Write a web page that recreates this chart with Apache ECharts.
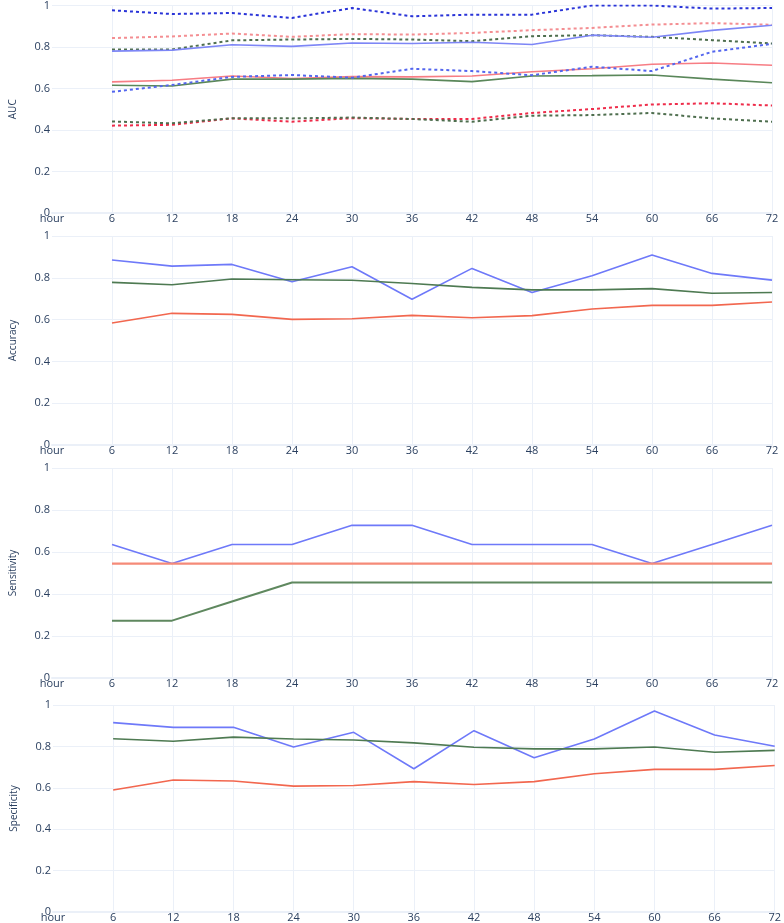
<!DOCTYPE html>
<html>
<head>
<meta charset="utf-8">
<script src="https://cdn.jsdelivr.net/npm/echarts@6/dist/echarts.min.js"></script>
<style>
  html, body { margin: 0; padding: 0; background: #fff; }
  #chart { width: 784px; height: 923px; }
</style>
</head>
<body>
<div id="chart"></div>
<script>
  var hours = ['6', '12', '18', '24', '30', '36', '42', '48', '54', '60', '66', '72']
  var yTicks = [0, 0.2, 0.4, 0.6, 0.8, 1]

  // AUC with dotted confidence bounds
  var aucBlue = [0.780, 0.785, 0.811, 0.803, 0.819, 0.817, 0.823, 0.812, 0.857, 0.847, 0.880, 0.905]
  var aucBlueHi = [0.977, 0.959, 0.964, 0.940, 0.988, 0.948, 0.956, 0.956, 1.0, 1.0, 0.985, 0.988]
  var aucBlueLo = [0.584, 0.617, 0.656, 0.665, 0.652, 0.695, 0.684, 0.664, 0.705, 0.684, 0.777, 0.815]
  var aucRed = [0.632, 0.640, 0.660, 0.648, 0.657, 0.656, 0.660, 0.681, 0.695, 0.717, 0.723, 0.712]
  var aucRedHi = [0.843, 0.851, 0.865, 0.849, 0.862, 0.860, 0.868, 0.881, 0.892, 0.908, 0.915, 0.907]
  var aucRedLo = [0.421, 0.425, 0.456, 0.440, 0.457, 0.453, 0.453, 0.482, 0.501, 0.523, 0.529, 0.518]
  var aucGreen = [0.616, 0.612, 0.645, 0.645, 0.649, 0.645, 0.633, 0.660, 0.662, 0.665, 0.645, 0.628]
  var aucGreenHi = [0.788, 0.788, 0.832, 0.836, 0.839, 0.836, 0.828, 0.852, 0.857, 0.849, 0.833, 0.817]
  var aucGreenLo = [0.441, 0.432, 0.457, 0.456, 0.460, 0.453, 0.440, 0.469, 0.472, 0.482, 0.456, 0.440]

  var accBlue = [0.885, 0.856, 0.864, 0.781, 0.853, 0.697, 0.845, 0.730, 0.810, 0.909, 0.821, 0.789]
  var accGreen = [0.778, 0.767, 0.794, 0.791, 0.788, 0.773, 0.754, 0.742, 0.742, 0.748, 0.726, 0.730]
  var accRed = [0.584, 0.630, 0.625, 0.601, 0.604, 0.620, 0.609, 0.619, 0.651, 0.668, 0.668, 0.684]

  var senBlue = [0.636, 0.545, 0.636, 0.636, 0.727, 0.727, 0.636, 0.636, 0.636, 0.545, 0.636, 0.727]
  var senRed = [0.545, 0.545, 0.545, 0.545, 0.545, 0.545, 0.545, 0.545, 0.545, 0.545, 0.545, 0.545]
  var senGreen = [0.273, 0.273, 0.364, 0.455, 0.455, 0.455, 0.455, 0.455, 0.455, 0.455, 0.455, 0.455]

  var speBlue = [0.915, 0.892, 0.892, 0.797, 0.868, 0.692, 0.876, 0.745, 0.836, 0.971, 0.855, 0.801]
  var speGreen = [0.837, 0.825, 0.845, 0.836, 0.831, 0.817, 0.796, 0.788, 0.788, 0.797, 0.772, 0.781]
  var speRed = [0.589, 0.638, 0.633, 0.608, 0.611, 0.630, 0.616, 0.630, 0.668, 0.689, 0.689, 0.708]

  var TEXT = '#2a3f5f'
  var GRID = '#ebf0f8'
  var FONT = '"Open Sans", "Noto Sans", sans-serif'

  var panels = [
    {name: 'AUC', left: 48, right: 12, top: 4, height: 209},
    {name: 'Accuracy', left: 48, right: 12, top: 236, height: 209},
    {name: 'Sensitivity', left: 47, right: 12, top: 468, height: 210},
    {name: 'Specificity', left: 53, right: 7, top: 705, height: 209},
  ]

  var cats = ['hour'].concat(hours)

  function pad(arr) {
    return [null].concat(arr)
  }

  function line(idx, name, data, color, width, dotted) {
    return {
      name: name,
      type: 'line',
      xAxisIndex: idx,
      yAxisIndex: idx,
      data: pad(data),
      symbol: 'none',
      silent: true,
      lineStyle: {
        color: color,
        width: width,
        type: dotted ? [3, 3] : 'solid'
      }
    }
  }

  var grids = [], xAxes = [], yAxes = []
  panels.forEach(function (p, i) {
    grids.push({left: p.left, right: p.right, top: p.top, height: p.height, containLabel: false})
    xAxes.push({
      gridIndex: i,
      type: 'category',
      boundaryGap: false,
      data: cats,
      axisLine: {show: true, lineStyle: {color: GRID, width: 2}},
      axisTick: {show: false},
      axisLabel: {color: TEXT, fontSize: 11, fontFamily: FONT, margin: 0, interval: 0},
      splitLine: {
        show: true,
        interval: function (index) { return index > 0 },
        lineStyle: {color: GRID, width: 1}
      }
    })
    yAxes.push({
      gridIndex: i,
      type: 'value',
      min: yTicks[0],
      max: yTicks[yTicks.length - 1],
      interval: 0.2,
      name: p.name,
      nameLocation: 'middle',
      nameRotate: 90,
      nameGap: 34,
      nameTextStyle: {color: TEXT, fontSize: 10, fontFamily: FONT},
      axisLine: {show: false},
      axisTick: {show: false},
      axisLabel: {color: TEXT, fontSize: 11, fontFamily: FONT, margin: 2},
      splitLine: {show: true, lineStyle: {color: GRID, width: 1}}
    })
  })

  var series = [
    line(0, 'blue upper', aucBlueHi, '#2a34d8', 2, true),
    line(0, 'red upper', aucRedHi, '#f48e92', 2, true),
    line(0, 'green upper', aucGreenHi, '#4e6e4e', 2, true),
    line(0, 'blue', aucBlue, '#7d86f6', 1.6, false),
    line(0, 'red', aucRed, '#f77d84', 1.6, false),
    line(0, 'green', aucGreen, '#5a875a', 1.6, false),
    line(0, 'blue lower', aucBlueLo, '#5466ee', 2, true),
    line(0, 'red lower', aucRedLo, '#ee2c4a', 2, true),
    line(0, 'green lower', aucGreenLo, '#4e6e4e', 2, true),

    line(1, 'blue', accBlue, '#6e79f9', 1.6, false),
    line(1, 'green', accGreen, '#4e7a52', 1.6, false),
    line(1, 'red', accRed, '#f2674f', 1.6, false),

    line(2, 'blue', senBlue, '#6e79f9', 1.6, false),
    line(2, 'red', senRed, '#f58a78', 2.2, false),
    line(2, 'green', senGreen, '#5f885f', 2, false),

    line(3, 'blue', speBlue, '#6e79f9', 1.6, false),
    line(3, 'green', speGreen, '#4e7a52', 1.6, false),
    line(3, 'red', speRed, '#f2674f', 1.6, false),
  ]

  var chart = echarts.init(document.getElementById('chart'), null, {renderer: 'canvas'})
  chart.setOption({
    backgroundColor: '#fff',
    animation: false,
    grid: grids,
    xAxis: xAxes,
    yAxis: yAxes,
    series: series
  })
</script>
</body>
</html>
